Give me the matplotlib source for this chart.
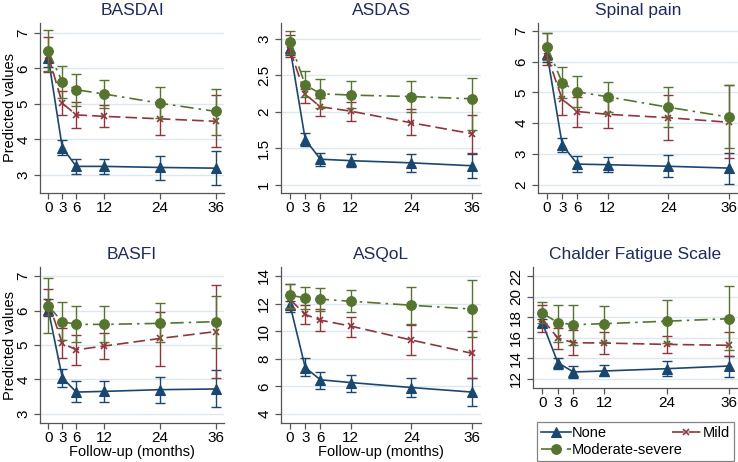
import matplotlib
matplotlib.use("Agg")
import matplotlib.pyplot as plt
from matplotlib.lines import Line2D
import numpy as np

plt.rcParams['font.family'] = ['Liberation Sans', 'DejaVu Sans']

months = [0, 3, 6, 12, 24, 36]
groups = ["None", "Mild", "Moderate-severe"]

# BASDAI
basdai_none = [6.29, 3.77, 3.24, 3.24, 3.21, 3.19]
basdai_none_lo = [6.05, 3.56, 3.02, 3.02, 2.86, 2.72]
basdai_none_hi = [6.50, 3.98, 3.45, 3.45, 3.54, 3.66]
basdai_mild = [6.35, 5.02, 4.69, 4.65, 4.58, 4.51]
basdai_mild_lo = [5.90, 4.68, 4.33, 4.34, 4.13, 3.80]
basdai_mild_hi = [6.89, 5.36, 5.04, 4.96, 5.00, 5.26]
basdai_mod = [6.48, 5.62, 5.40, 5.28, 5.02, 4.79]
basdai_mod_lo = [5.92, 5.17, 4.95, 4.88, 4.60, 4.13]
basdai_mod_hi = [7.07, 6.06, 5.85, 5.68, 5.48, 5.42]

# ASDAS
asdas_none = [2.87, 1.62, 1.35, 1.33, 1.30, 1.26]
asdas_none_lo = [2.78, 1.53, 1.25, 1.24, 1.17, 1.09]
asdas_none_hi = [2.95, 1.71, 1.44, 1.42, 1.42, 1.42]
asdas_mild = [2.85, 2.24, 2.07, 2.01, 1.85, 1.70]
asdas_mild_lo = [2.76, 2.12, 1.95, 1.88, 1.68, 1.44]
asdas_mild_hi = [3.05, 2.32, 2.19, 2.14, 2.04, 1.96]
asdas_mod = [2.96, 2.37, 2.25, 2.23, 2.21, 2.18]
asdas_mod_lo = [2.80, 2.20, 2.05, 2.05, 2.00, 1.75]
asdas_mod_hi = [3.11, 2.56, 2.45, 2.42, 2.42, 2.47]

# Spinal pain
pain_none = [6.25, 3.30, 2.67, 2.65, 2.60, 2.54]
pain_none_lo = [6.00, 3.05, 2.41, 2.41, 2.25, 2.03]
pain_none_hi = [6.50, 3.51, 2.92, 2.90, 2.95, 3.02]
pain_mild = [6.20, 4.78, 4.38, 4.29, 4.18, 4.03]
pain_mild_lo = [5.89, 4.27, 3.89, 3.86, 3.44, 2.86]
pain_mild_hi = [6.94, 5.24, 4.86, 4.75, 4.92, 5.24]
pain_mod = [6.48, 5.32, 5.02, 4.86, 4.52, 4.20]
pain_mod_lo = [6.05, 4.81, 4.54, 4.38, 3.88, 3.18]
pain_mod_hi = [6.94, 5.83, 5.53, 5.34, 5.17, 5.24]

# BASFI
basfi_none = [6.02, 4.05, 3.63, 3.65, 3.70, 3.72]
basfi_none_lo = [5.85, 3.79, 3.35, 3.35, 3.31, 3.21]
basfi_none_hi = [6.35, 4.30, 3.94, 3.96, 4.08, 4.27]
basfi_mild = [6.25, 5.05, 4.86, 4.97, 5.19, 5.39]
basfi_mild_lo = [5.87, 4.62, 4.43, 4.60, 4.40, 4.05]
basfi_mild_hi = [6.64, 5.50, 5.28, 5.35, 5.95, 6.74]
basfi_mod = [6.13, 5.68, 5.60, 5.60, 5.63, 5.68]
basfi_mod_lo = [5.34, 5.14, 5.08, 5.08, 5.10, 4.92]
basfi_mod_hi = [6.96, 6.24, 6.14, 6.13, 6.21, 6.43]

# ASQoL
asqol_none = [11.88, 7.37, 6.48, 6.28, 5.92, 5.59]
asqol_none_lo = [11.40, 6.72, 5.80, 5.63, 5.20, 4.55]
asqol_none_hi = [12.20, 8.04, 7.08, 6.84, 6.60, 6.60]
asqol_mild = [12.30, 11.21, 10.80, 10.37, 9.36, 8.40]
asqol_mild_lo = [11.60, 10.49, 10.00, 9.60, 8.28, 6.64]
asqol_mild_hi = [13.40, 11.88, 11.60, 11.04, 10.43, 10.00]
asqol_mod = [12.60, 12.41, 12.32, 12.17, 11.88, 11.60]
asqol_mod_lo = [11.69, 11.64, 11.45, 11.36, 10.49, 9.60]
asqol_mod_hi = [13.45, 13.20, 13.16, 12.97, 13.20, 13.69]

# Chalder Fatigue Scale
cfs_none = [17.45, 13.56, 12.65, 12.75, 12.97, 13.23]
cfs_none_lo = [17.03, 12.97, 12.06, 12.23, 12.26, 12.16]
cfs_none_hi = [17.84, 14.01, 13.20, 13.30, 13.69, 14.20]
cfs_mild = [17.80, 15.96, 15.50, 15.47, 15.34, 15.25]
cfs_mild_lo = [16.50, 14.90, 14.30, 14.40, 14.50, 14.20]
cfs_mild_hi = [19.20, 16.90, 16.70, 16.50, 16.20, 16.50]
cfs_mod = [18.40, 17.45, 17.26, 17.36, 17.60, 17.84]
cfs_mod_lo = [17.45, 15.60, 15.30, 15.60, 15.50, 14.76]
cfs_mod_hi = [19.50, 19.20, 19.20, 19.10, 19.70, 21.00]

panels = [
    ("BASDAI", [3, 4, 5, 6, 7], (2.49, 7.28),
     [(basdai_none, basdai_none_lo, basdai_none_hi),
      (basdai_mild, basdai_mild_lo, basdai_mild_hi),
      (basdai_mod, basdai_mod_lo, basdai_mod_hi)]),
    ("ASDAS", [1, 1.5, 2, 2.5, 3], (0.886, 3.22),
     [(asdas_none, asdas_none_lo, asdas_none_hi),
      (asdas_mild, asdas_mild_lo, asdas_mild_hi),
      (asdas_mod, asdas_mod_lo, asdas_mod_hi)]),
    ("Spinal pain", [2, 3, 4, 5, 6, 7], (1.73, 7.26),
     [(pain_none, pain_none_lo, pain_none_hi),
      (pain_mild, pain_mild_lo, pain_mild_hi),
      (pain_mod, pain_mod_lo, pain_mod_hi)]),
    ("BASFI", [3, 4, 5, 6, 7], (2.73, 7.27),
     [(basfi_none, basfi_none_lo, basfi_none_hi),
      (basfi_mild, basfi_mild_lo, basfi_mild_hi),
      (basfi_mod, basfi_mod_lo, basfi_mod_hi)]),
    ("ASQoL", [4, 6, 8, 10, 12, 14], (3.35, 14.65),
     [(asqol_none, asqol_none_lo, asqol_none_hi),
      (asqol_mild, asqol_mild_lo, asqol_mild_hi),
      (asqol_mod, asqol_mod_lo, asqol_mod_hi)]),
    ("Chalder Fatigue Scale", [12, 14, 16, 18, 20, 22], (11.09, 22.88),
     [(cfs_none, cfs_none_lo, cfs_none_hi),
      (cfs_mild, cfs_mild_lo, cfs_mild_hi),
      (cfs_mod, cfs_mod_lo, cfs_mod_hi)]),
]

W, H = 738, 462
boxes = [
    (40, 224, 23, 193), (281, 481, 23, 193), (538, 738, 23, 193),
    (40, 224, 267, 423), (281, 481, 267, 423), (533, 738, 267, 388),
]

colors = ["#1a476f", "#90353b", "#55752f"]
markers = ["^", "x", "o"]
msizes = [7, 5, 7]
dashes = [None, (7, 3), (8, 3, 1.5, 3)]
title_color = "#1e2a5e"
spine_color = "#555555"

fig = plt.figure(figsize=(W / 100, H / 100), dpi=100)
fig.patch.set_facecolor("white")

for i, ((title, ticks, ylim, series), (l, r, t, b)) in enumerate(zip(panels, boxes)):
    ax = fig.add_axes([l / W, 1 - b / H, (r - l) / W, (b - t) / H])
    ax.set_facecolor("white")
    for yv in ticks:
        ax.axhline(yv, color="#dce8ee", lw=1.0, zorder=0)
    for k, (vals, lo, hi) in enumerate(series):
        v = np.array(vals)
        err = np.array([v - np.array(lo), np.array(hi) - v])
        c = colors[k]
        ax.errorbar(months, v, yerr=err, fmt="none", ecolor=c, elinewidth=1.0,
                    capsize=3.5, capthick=1.0, zorder=2 + k)
        line, = ax.plot(months, v, color=c, lw=1.2, marker=markers[k],
                        markersize=msizes[k], markeredgewidth=1.2 if k == 1 else 0.8,
                        zorder=3 + k)
        if dashes[k] is not None:
            line.set_dashes(dashes[k])
    ax.set_xlim(-1.8, 37.8)
    ax.set_ylim(*ylim)
    ax.set_xticks(months)
    ax.set_xticklabels([str(m) for m in months])
    ax.set_yticks(ticks)
    ax.set_yticklabels([("%g" % tv) for tv in ticks], rotation=90, va="center")
    ax.tick_params(axis="both", colors=spine_color, labelcolor="black",
                   labelsize=11, length=4, width=0.9, direction="out")
    ax.tick_params(axis="y", pad=3)
    ax.tick_params(axis="x", pad=2)
    for s in ["top", "right"]:
        ax.spines[s].set_visible(False)
    for s in ["left", "bottom"]:
        ax.spines[s].set_color(spine_color)
        ax.spines[s].set_linewidth(0.9)
    ax.set_title(title, color=title_color, fontsize=12.5, pad=6)
    if i in (0, 3):
        ax.set_ylabel("Predicted values", fontsize=10.5, va="center")
        ax.yaxis.set_label_coords((9.5 - l) / (r - l), 0.5)
    if i in (3, 4):
        ax.set_xlabel("Follow-up (months)", fontsize=10.5, labelpad=0)

handles = []
for k in range(3):
    h = Line2D([0], [0], color=colors[k], lw=1.2, marker=markers[k],
               markersize=msizes[k], markeredgewidth=1.2 if k == 1 else 0.8)
    if dashes[k] is not None:
        h.set_dashes(dashes[k])
    handles.append(h)

leg = fig.legend([handles[0], handles[2], handles[1]],
                 [groups[0], groups[2], groups[1]],
                 ncol=2, loc="lower left",
                 bbox_to_anchor=(537 / W, 1 / H, 197 / W, 44 / H), mode="expand",
                 fontsize=10.5, frameon=True, fancybox=False, handlelength=2.0,
                 handletextpad=0.1, borderpad=0.3, labelspacing=0.15,
                 columnspacing=0.5, borderaxespad=0)
leg.get_frame().set_edgecolor("#666666")
leg.get_frame().set_linewidth(0.9)

fig.savefig("out.png", dpi=100, facecolor="white")
